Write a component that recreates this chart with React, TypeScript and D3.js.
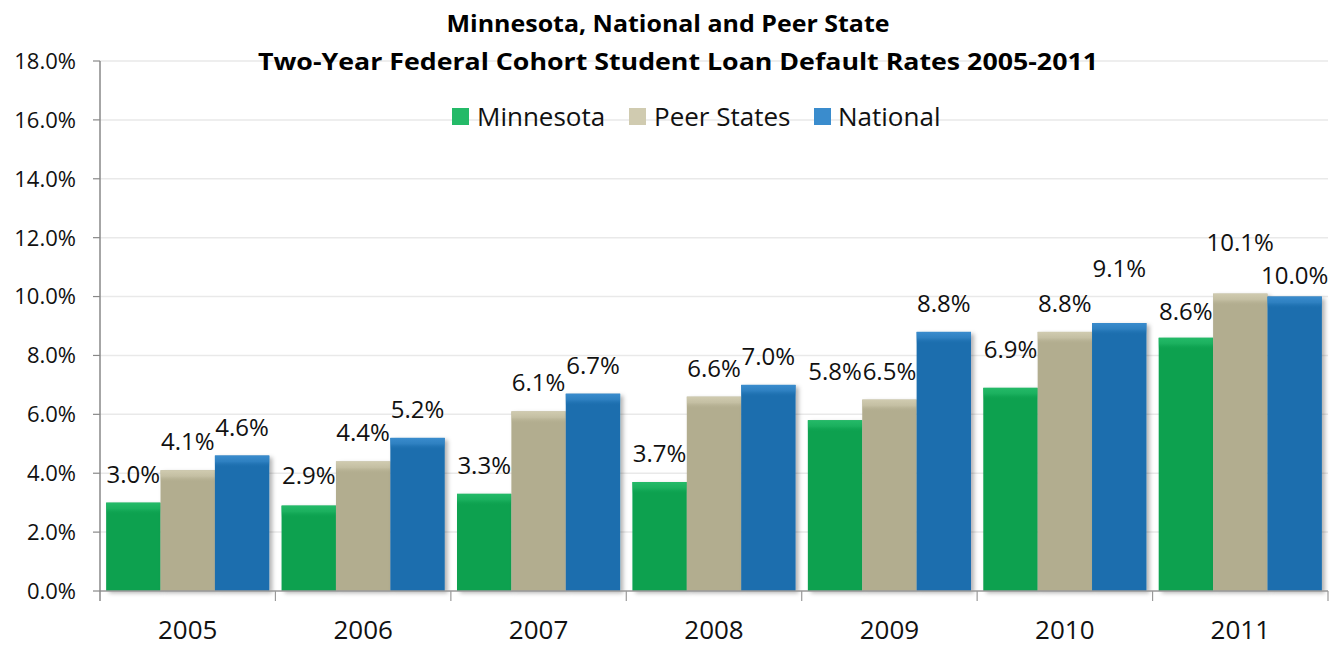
import React from 'react'
import * as d3 from 'd3'

const years = ['2005', '2006', '2007', '2008', '2009', '2010', '2011']
const seriesNames = ['Minnesota', 'Peer States', 'National']
const minnesota = [3.0, 2.9, 3.3, 3.7, 5.8, 6.9, 8.6]
const peerStates = [4.1, 4.4, 6.1, 6.6, 6.5, 8.8, 10.1]
const national = [4.6, 5.2, 6.7, 7.0, 8.8, 9.1, 10.0]
const yTicks = [0, 2, 4, 6, 8, 10, 12, 14, 16, 18]
// extra lift (px) Excel gave some labels to keep them from colliding
const labelLift = [
  [0, 2, 0, 0, 20, 10, -2],
  [0, 0, 0, 0, 0, 0, 23],
  [0, 0, 0, 0, 0, 26, -7],
]

const base = ['#0aa14f', '#b2ad8f', '#1a6eae']
const light = ['#24ba68', '#d0cbb0', '#3a8ccd']

const W = 1335
const H = 648
const left = 100
const right = 1328
const top = 61
const bottom = 591
const font = '"Open Sans", sans-serif'

export default function App() {
  const series = [minnesota, peerStates, national]
  const x0 = d3.scaleBand().domain(years).range([left, right]).paddingInner(0.07).paddingOuter(0.035)
  const x1 = d3.scaleBand().domain(seriesNames).range([0, x0.bandwidth()])
  const y = d3.scaleLinear().domain([0, 18]).range([bottom, top])
  const step = x0.step()

  const legendItems = [
    {name: 'Minnesota', sx: 452, tx: 477},
    {name: 'Peer States', sx: 629, tx: 654},
    {name: 'National', sx: 814, tx: 838},
  ]

  return <svg width={W} height={H} style={{position: 'absolute', left: 0, top: 0, background: 'white'}}>
    <defs>
      <filter id="shadow" x="-10%" y="-10%" width="130%" height="130%">
        <feDropShadow dx="3" dy="2" stdDeviation="2" floodColor="#000" floodOpacity="0.3" />
      </filter>
      {base.map((c, i) => <linearGradient key={i} id={`top${i}`} x1="0" y1="0" x2="0" y2="1">
        <stop offset="0" stopColor={light[i]} stopOpacity="1" />
        <stop offset="0.5" stopColor={light[i]} stopOpacity="0.6" />
        <stop offset="1" stopColor={base[i]} stopOpacity="0" />
      </linearGradient>)}
    </defs>

    {yTicks.map(t => <g key={t}>
      {t > 0 && <line x1={left} x2={right} y1={y(t)} y2={y(t)} stroke="#e9e9e9" strokeWidth={1.5} />}
      <line x1={left - 7} x2={left} y1={y(t)} y2={y(t)} stroke="#888" strokeWidth={1.2} />
      <text x={76} y={y(t)} dy="0.36em" textAnchor="end" fontFamily={font} fontSize={22} fill="#111">{t.toFixed(1)}%</text>
    </g>)}

    {years.map((yr, j) => <g key={yr}>
      {series.map((vals, i) => {
        const bx = x0(yr)! + x1(seriesNames[i])!
        const bw = x1.bandwidth()
        const by = y(vals[j])
        return <g key={i}>
          <rect x={bx} y={by} width={bw} height={bottom - by} fill={base[i]} filter="url(#shadow)" />
          <rect x={bx} y={by} width={bw} height={Math.min(12, bottom - by)} fill={`url(#top${i})`} />
          <text x={bx + bw / 2} y={by - 20 - labelLift[i][j]} textAnchor="middle" fontFamily={font} fontSize={24} fill="#111">{vals[j].toFixed(1)}%</text>
        </g>
      })}
      <text x={x0(yr)! + x0.bandwidth() / 2} y={639} textAnchor="middle" fontFamily={font} fontSize={26} fill="#111">{yr}</text>
    </g>)}

    <line x1={left} x2={right} y1={bottom} y2={bottom} stroke="#999" strokeWidth={1.5} />
    <line x1={left} x2={left} y1={top} y2={bottom + 10} stroke="#888" strokeWidth={1.5} />
    {years.map((yr, j) => <line key={yr} x1={left + step * (j + 1)} x2={left + step * (j + 1)} y1={bottom} y2={bottom + 10} stroke="#999" strokeWidth={1.2} />)}

    <text x={668} y={32} textAnchor="middle" fontFamily={font} fontWeight="bold" fontSize={24} fill="#000" textLength={443} lengthAdjust="spacingAndGlyphs">Minnesota, National and Peer State</text>
    <text x={678} y={70} textAnchor="middle" fontFamily={font} fontWeight="bold" fontSize={24} fill="#000" textLength={840} lengthAdjust="spacingAndGlyphs">Two-Year Federal Cohort Student Loan Default Rates 2005-2011</text>

    {legendItems.map((d, i) => <g key={d.name}>
      <rect x={d.sx} y={108} width={17} height={17} fill={light[i]} />
      <text x={d.tx} y={126} fontFamily={font} fontSize={26} fill="#111">{d.name}</text>
    </g>)}
  </svg>
}
